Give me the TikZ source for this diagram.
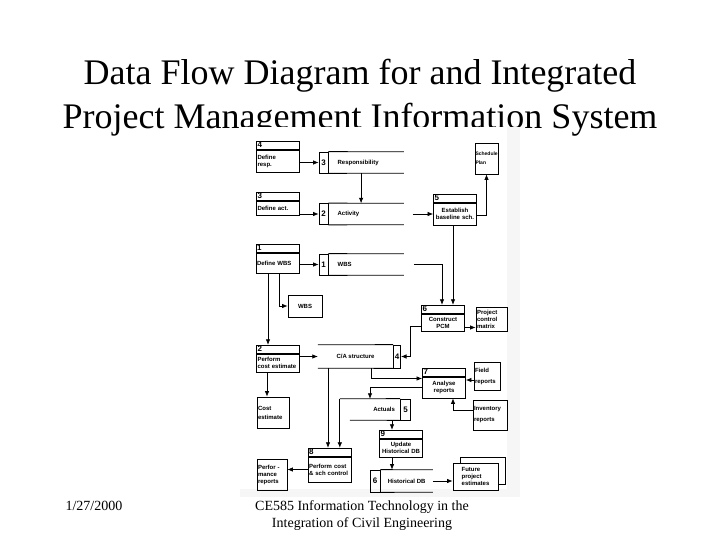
\documentclass[tikz,border=0pt]{standalone}
\usepackage{fontspec}
\setmainfont{Liberation Serif}
\newfontfamily\scanfont{Liberation Sans}
\usetikzlibrary{arrows.meta,positioning}

\begin{document}
\begin{tikzpicture}[x=1pt, y=-1pt,
  proc/.style={draw, line width=0.8pt, text width=41pt, inner xsep=1pt, inner ysep=0pt, align=left, font=\scanfont\bfseries\fontsize{6}{7}\selectfont},
  prochead/.style={draw, line width=0.8pt, minimum height=8pt, text width=41pt, inner xsep=1pt, inner ysep=0pt, align=left, font=\scanfont\bfseries\fontsize{8}{8}\selectfont},
  ent/.style={draw, line width=0.8pt, inner xsep=1pt, inner ysep=0pt, align=left, font=\scanfont\bfseries\fontsize{6}{7}\selectfont},
  store/.style={minimum height=21pt, inner sep=0pt, font=\scanfont\bfseries\fontsize{6}{7}\selectfont},
  storenum/.style={draw, line width=0.8pt, minimum height=21pt, inner sep=0pt, font=\scanfont\bfseries\fontsize{8}{8}\selectfont},
  storeline/.style={line width=0.8pt},
  flow/.style={-{Latex[length=5.5pt,width=4.5pt]}, line width=0.7pt},
  titletext/.style={font=\fontsize{36}{44}\selectfont, anchor=base},
  foottext/.style={font=\fontsize{14}{17}\selectfont, anchor=base}
]
\useasboundingbox (0,0) rectangle (720,540);

\node[titletext] (title1) at (360,85) {Data Flow Diagram for and Integrated};
\node[titletext] (title2) at (360,129) {Project Management Information System};

\fill[white] (240,127) rectangle (520,497);
\fill[gray!7] (507,127) rectangle (520,497);
\fill[gray!7] (240,489) rectangle (520,497);

\node[proc, minimum height=22pt] (p4) at (278,161) {Define\\resp.};
\node[prochead, above=0pt of p4] (p4h) {4};
\node[proc, minimum height=14pt] (p3) at (278,208) {Define act.};
\node[prochead, above=0pt of p3] (p3h) {3};
\node[proc, minimum height=20pt] (p1) at (277.5,263) {Define WBS};
\node[prochead, above=0pt of p1] (p1h) {1};
\node[proc, minimum height=18pt] (p2) at (278,363) {Perform\\cost estimate};
\node[prochead, above=0pt of p2] (p2h) {2};
\node[proc, align=center, minimum height=22pt] (p5) at (455,214) {Establish\\baseline sch.};
\node[prochead, above=0pt of p5] (p5h) {5};
\node[proc, align=center, minimum height=17pt] (p6) at (443,322.5) {Construct\\PCM};
\node[prochead, above=0pt of p6] (p6h) {6};
\node[proc, align=center, minimum height=21pt] (p7) at (444,387.5) {Analyse\\reports};
\node[prochead, above=0pt of p7] (p7h) {7};
\node[proc, minimum height=25pt] (p8) at (329.5,469.5) {Perform cost\\\& sch control};
\node[prochead, above=0pt of p8] (p8h) {8};
\node[proc, align=center, minimum height=18pt] (p9) at (401,448) {Update\\Historical DB};
\node[prochead, above=0pt of p9] (p9h) {9};

\node[storenum, minimum width=9pt] (n3) at (323.5,162.5) {3};
\node[store, right=0pt of n3, text width=57pt, inner xsep=9pt, align=left] (s3) {Responsibility};
\node[storenum, minimum width=9pt] (n2) at (323.5,214) {2};
\node[store, right=0pt of n2, text width=57pt, inner xsep=9pt, align=left] (s2) {Activity};
\node[storenum, minimum width=9pt] (n1) at (323.5,264.5) {1};
\node[store, right=0pt of n1, text width=57pt, inner xsep=9pt, align=left] (s1) {WBS};
\node[store, minimum width=75pt, minimum height=23pt] (s4) at (355.5,356.5) {C/A structure};
\node[storenum, minimum width=7pt, minimum height=23pt, right=0pt of s4] (n4) {4};
\node[store, text width=50pt, inner xsep=5pt, align=right] (s5) at (370,409.5) {Actuals};
\node[storenum, minimum width=10pt, right=0pt of s5] (n5) {5};
\node[storenum, minimum width=10pt, minimum height=22pt] (n6) at (375,481) {6};
\node[store, minimum width=52pt, minimum height=22pt, right=0pt of n6] (s6) {Historical DB};

\draw[storeline] (n3.north east) -- (s3.north east) (n3.south east) -- (s3.south east);
\draw[storeline] (n2.north east) -- (s2.north east) (n2.south east) -- (s2.south east);
\draw[storeline] (n1.north east) -- (s1.north east) (n1.south east) -- (s1.south east);
\draw[storeline] (n4.north west) -- (s4.north west) (n4.south west) -- (s4.south west);
\draw[storeline] (n5.north west) -- (s5.north west) (n5.south west) -- ([xshift=10pt]s5.south west);
\draw[storeline] (n6.north east) -- (s6.north east) (n6.south east) -- (s6.south east);

\node[ent, text width=22pt, inner xsep=0.5pt, minimum height=31pt, font=\scanfont\bfseries\fontsize{5}{6}\selectfont] (esch) at (486.5,158.5) {Schedule\\[3pt]Plan};
\node[ent, align=center, minimum width=34pt, minimum height=22pt] (ewbs) at (305,306) {WBS};
\node[ent, text width=29pt, minimum height=24pt] (epcm) at (491.5,319) {Project\\control\\matrix};
\node[ent, text width=24pt, minimum height=28pt] (efield) at (487,376) {Field\\[4pt]reports};
\node[ent, text width=32pt, minimum height=30pt] (einv) at (490,415) {Inventory\\[4pt]reports};
\node[ent, text width=30pt, minimum height=31pt] (ecost) at (273,412.5) {Cost\\[2pt]estimate};
\node[ent, text width=28pt, minimum height=31pt] (eperf) at (272,474.5) {Perfor -\\mance\\reports};
\node[ent, minimum width=45pt, minimum height=27pt] (efutb) at (482.5,470.5) {};
\node[ent, fill=white, minimum width=45pt, minimum height=27pt] (efut) at (475.5,476.5) {Future\\project\\estimates};

\draw[flow] (p4.east |- n3.west) -- (n3.west);
\draw[flow] (p3.east |- n2.west) -- (n2.west);
\draw[flow] (p1.east |- n1.west) -- (n1.west);
\draw[flow] ([xshift=-5pt]s3.south) -- ([xshift=-5pt]s2.north);
\draw[flow] ([xshift=1.5pt]p1.south) |- (ewbs.west);
\draw[flow] ([xshift=-9.5pt]p1.south) -- ([xshift=-9.5pt]p1.south |- p2h.north);
\draw[flow, shorten <=9pt] (s2.east) -- (s2.east -| p5.west);
\draw[flow] ([yshift=-1pt]p5.east) -| (esch.south);
\draw[flow] ([xshift=-2pt]p5.south) -- ([xshift=-2pt]p5.south |- p6h.north);
\draw[flow, shorten <=10pt] (s1.east) -| ([xshift=-1pt]p6h.north);
\draw[flow] ([yshift=-5pt]p6.east) -- ([yshift=-5pt]p6.east -| epcm.west);
\draw[flow] ([yshift=-4pt]p6.west) -- ++(-11,0) |- (n4.east);
\draw[flow] (p2.east |- s4.west) -- (s4.west);
\draw[flow] ([xshift=-11pt]p2.south) -- ([xshift=-11pt]p2.south |- ecost.north);
\draw[flow] ([xshift=15.5pt]s4.south) |- ([yshift=9pt]p7.west);
\draw[flow] ([xshift=-1.5pt]p8h.north |- s4.south) -- ([xshift=-1.5pt]p8h.north);
\draw[flow] (p7.west) -| (s5.north);
\draw[flow] ([yshift=-4pt]efield.west) -- ([yshift=-4pt]efield.west -| p7.east);
\draw[flow] ([yshift=5pt]einv.west) -| ([xshift=9pt]p7.south);
\draw[flow] (s5.north west) -- (s5.north west |- p8h.north);
\draw[flow] ([xshift=-9pt]p9h.north |- s5.south) -- ([xshift=-9pt]p9h.north);
\draw[flow] ([xshift=-9pt]p9.south) -- ([xshift=-9pt]p9.south |- n6.north);
\draw[flow] (s6.east) -- (s6.east -| efut.west);
\draw[flow] (p8.west) -- (p8.west -| eperf.east);

\node[foottext, anchor=base west] (date) at (62,510) {1/27/2000};
\node[foottext] (course1) at (362,510) {CE585 Information Technology in the};
\node[foottext] (course2) at (362,527) {Integration of Civil Engineering};
\end{tikzpicture}
\end{document}
